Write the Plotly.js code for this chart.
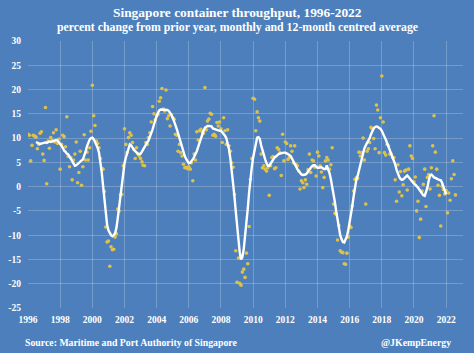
<!DOCTYPE html>
<html>
<head>
<meta charset="utf-8">
<script src="https://cdn.plot.ly/plotly-3.0.1.min.js"></script>
<style>
  html, body { margin: 0; padding: 0; background: #4F81BD; }
  #chart { width: 474px; height: 353px; }
</style>
</head>
<body>
<div id="chart"></div>
<script>
// Monthly year-on-year % change, Jan 1996 .. Aug 2022
const monthlyStart = [1996, 1];
const monthly = [
  10.8, 10.6, 5.3, 8.5, 10.6, 10.4, 10.2, 7.8, 8.7, 11.0, 11.3, 6.7,      // 1996
  5.4, 16.3, 0.6, 9.4, 7.9, 10.1, 9.5, 11.1, 9.2, 11.7, 8.9, 9.8,        // 1997
  3.6, 8.7, 10.6, 10.3, 8.2, 14.4, 6.2, 4.1, 6.0, 1.4, 5.5, 6.7,         // 1998
  9.2, 0.8, 2.9, 7.3, 0.3, 4.1, 10.7, 5.5, 7.1, 5.5, 8.0, 11.4,          // 1999
  20.9, 14.6, 12.6, 9.4, 8.9, 8.0, 5.8, 3.7, 3.6, -1.0, -8.3, -11.4,     // 2000
  -11.2, -16.4, -12.4, -13.0, -12.9, -10.4, -9.7, -4.6, -5.0, -1.7, -1.6, 4.3, // 2001
  11.9, 8.7, 7.0, 10.1, 11.1, 10.6, 9.1, 7.7, 5.8, 8.0, 6.7, 6.3,        // 2002
  5.8, 5.1, 4.4, 4.3, 9.1, 8.7, 10.1, 11.1, 13.3, 16.5, 15.0, 13.8,      // 2003
  14.6, 14.9, 17.6, 18.3, 20.2, 16.0, 15.6, 19.9, 14.0, 14.6, 12.5, 14.8, // 2004
  14.2, 13.9, 10.8, 10.6, 7.3, 8.7, 7.0, 6.3, 4.6, 3.9, 4.0, 3.7,        // 2005
  4.1, 3.6, 4.9, 1.2, 6.7, 5.5, 11.3, 9.6, 11.5, 11.8, 11.3, 11.0,       // 2006
  20.4, 11.7, 13.5, 13.9, 15.1, 14.9, 10.6, 10.8, 10.4, 13.2, 12.5, 13.3, // 2007
  11.9, 9.1, 14.2, 11.5, 8.7, 11.7, 8.4, 7.3, 4.9, 4.0, -1.6, -13.2,     // 2008
  -19.7, -14.7, -19.9, -20.3, -17.6, -17.0, -18.7, -13.7, -15.9, -8.2, 1.5, 5.8, // 2009
  18.2, 18.0, 11.5, 15.4, 14.2, 13.5, 6.7, 3.9, 4.3, 3.6, 3.2, 3.9,      // 2010
  -1.8, 4.3, 6.0, 6.2, 3.7, 3.9, 8.0, 7.7, 7.0, 2.3, 10.8, 5.3,          // 2011
  9.2, 8.9, 5.6, 6.0, 8.4, 7.3, 4.9, 8.4, 4.6, 4.3, 3.2, -0.5,           // 2012
  1.2, 0.8, -0.2, 1.4, 0.5, 3.5, 6.7, 2.9, 5.5, 5.3, 4.0, 2.2,           // 2013
  7.1, 6.3, 4.3, 3.0, -0.2, 1.9, 5.3, 6.0, 5.5, 3.6, 4.5, 8.0,           // 2014
  -3.6, -5.5, -5.7, -11.0, -8.0, -13.2, -13.5, -13.6, -15.9, -16.0, -13.7, -10.4, // 2015
  -8.1, -8.4, -4.0, -0.9, 1.5, 1.8, 1.7, 7.1, 6.3, 7.0, 10.0, 5.5,       // 2016
  -3.6, 7.3, 7.8, 9.1, 12.2, 11.9, 9.9, 7.8, 16.8, 15.8, 7.0, 14.2,      // 2017
  22.8, 13.3, 7.0, 6.5, 8.7, 8.4, 6.7, 6.7, 6.0, 6.0, 1.4, -3.0,         // 2018
  4.5, -1.1, 3.1, -1.9, 0.4, 3.2, 3.4, -0.7, 3.6, 8.4, 6.3, 5.8,         // 2019
  1.0, 2.0, -5.0, -3.0, -10.5, -6.7, -0.9, 0.5, 3.6, -4.1, 1.9, 2.5,     // 2020
  -0.5, 3.9, 8.4, 14.6, 7.1, 3.6, 0.3, -1.8, -8.1, 0.1, -0.6, -1.5,      // 2021
  -0.8, -5.4, -1.3, -2.8, 1.6, 5.3, 2.5, -1.7                            // 2022
];

// 12-month centred average, Jul 1996 .. Jan 2022
const averageStart = [1996, 7];
const average = [
  9.2, 9.0, 8.9, 8.8, 8.9, 9.0,                                      // 1996 H2
  9.0, 9.1, 9.0, 9.2, 9.3, 9.2, 9.3, 9.4, 9.5, 9.6, 9.5, 9.2,        // 1997
  8.8, 8.4, 8.0, 7.4, 7.2, 6.8, 6.7, 6.2, 5.5, 5.0, 4.6, 4.3,        // 1998
  4.4, 4.7, 4.9, 5.2, 5.4, 5.6, 6.3, 7.2, 8.3, 9.1, 9.7, 10.0,       // 1999
  10.1, 9.8, 9.3, 8.8, 8.0, 7.0, 5.2, 3.0, 0.2, -2.8, -5.5, -7.8,    // 2000
  -9.0, -9.7, -10.0, -10.2, -10.0, -9.6, -8.5, -6.5, -4.2, -1.8, 0.8, 3.0, // 2001
  4.8, 6.0, 7.0, 8.0, 8.7, 8.5, 8.0, 7.6, 7.3, 7.0, 6.8, 6.7,        // 2002
  6.8, 7.2, 7.7, 8.2, 8.7, 9.1, 9.5, 10.2, 11.0, 11.8, 12.8, 13.8,   // 2003
  14.5, 15.2, 15.7, 15.9, 15.9, 15.8, 15.9, 15.9, 15.8, 15.6, 15.3, 14.8, // 2004
  14.2, 13.5, 12.8, 11.9, 11.0, 10.0, 9.0, 8.0, 7.0, 6.3, 5.7, 5.2,  // 2005
  4.8, 4.9, 5.2, 5.6, 6.1, 6.6, 7.3, 8.2, 9.1, 9.9, 10.7, 11.5,      // 2006
  12.1, 12.4, 12.5, 12.5, 12.5, 12.4, 12.0, 11.9, 11.8, 11.6, 11.5, 11.5, // 2007
  11.5, 11.2, 11.0, 10.5, 10.0, 9.0, 7.7, 5.8, 3.6, 0.8, -1.9, -5.0, // 2008
  -8.5, -11.5, -13.5, -15.0, -14.5, -12.9, -10.5, -8.1, -4.5, -1.2, 1.8, 4.0, // 2009
  6.0, 7.7, 9.2, 10.1, 10.2, 9.8, 8.5, 7.4, 6.4, 5.6, 4.8, 4.3,      // 2010
  4.3, 4.8, 5.3, 5.6, 6.0, 6.2, 6.5, 6.7, 6.8, 6.9, 7.0, 7.0,        // 2011
  7.0, 6.9, 6.7, 6.5, 6.3, 5.8, 5.2, 4.6, 4.0, 3.6, 3.2, 2.8,        // 2012
  2.5, 2.4, 2.4, 2.5, 2.7, 3.2, 3.6, 3.9, 4.2, 4.4, 4.4, 4.2,        // 2013
  3.9, 3.9, 4.0, 4.0, 3.8, 3.6, 3.6, 4.4, 3.5, 2.8, 1.5, 0.1,        // 2014
  -1.5, -3.2, -5.0, -7.0, -8.6, -10.0, -10.8, -11.4, -11.5, -11.0, -10.2, -9.0, // 2015
  -7.5, -5.6, -4.0, -2.0, 0.1, 1.4, 2.2, 3.5, 4.6, 5.8, 7.0, 7.9,    // 2016
  8.5, 9.0, 9.4, 10.0, 10.8, 11.5, 12.0, 12.3, 12.4, 12.3, 12.1, 11.9, // 2017
  11.5, 11.0, 10.3, 9.7, 9.0, 8.3, 7.6, 7.0, 6.2, 5.5, 4.6, 3.5,     // 2018
  2.6, 2.0, 1.6, 1.4, 1.5, 1.8, 2.1, 2.3, 2.0, 1.6, 1.2, 0.9,        // 2019
  0.6, 0.4, 0.2, -0.2, -0.6, -1.0, -1.4, -1.8, -1.9, -1.2, -0.2, 1.2, // 2020
  2.3, 2.5, 2.2, 1.9, 1.8, 1.6, 1.5, 1.4, 1.3, 0.8, 0.1, -0.9,       // 2021
  -1.6                                                               // 2022 Jan
];

const yTicks = [-25, -20, -15, -10, -5, 0, 5, 10, 15, 20, 25, 30];
const titleText = 'Singapore container throughput, 1996-2022';
const subtitleText = 'percent change from prior year, monthly and 12-month centred average';
const sourceText = 'Source: Maritime and Port Authority of Singapore';
const handleText = '@JKempEnergy';

function monthDates(start, n) {
  const out = [];
  let y = start[0], m = start[1];
  for (let i = 0; i < n; i++) {
    out.push(y + '-' + String(m).padStart(2, '0') + '-01');
    m++; if (m > 12) { m = 1; y++; }
  }
  return out;
}

const BG = '#4D7FBC';
const FONT = 'Liberation Serif, Times New Roman, serif';

const traces = [
  {
    type: 'scatter', mode: 'markers',
    x: monthDates(monthlyStart, monthly.length), y: monthly,
    marker: { color: '#DDC24A', size: 3.6, line: { width: 0 } },
    hoverinfo: 'skip', showlegend: false
  },
  {
    type: 'scatter', mode: 'lines',
    x: monthDates(averageStart, average.length), y: average,
    line: { color: '#FFFFFF', width: 2.4 },
    hoverinfo: 'skip', showlegend: false
  }
];

const layout = {
  width: 474, height: 353,
  paper_bgcolor: BG, plot_bgcolor: BG,
  margin: { l: 28, r: 11, t: 41, b: 45 },
  font: { family: FONT, color: '#FFFFFF' },
  xaxis: {
    type: 'date',
    range: ['1996-01-01', '2023-01-19'],
    tick0: '1996-01-01', dtick: 'M24', tickformat: '%Y',
    showgrid: true, gridcolor: 'rgba(255,255,255,0.22)', gridwidth: 1,
    zeroline: false, showline: false, ticks: '',
    ticklabelstandoff: 4,
    tickfont: { family: FONT, size: 9.5, color: '#FFFFFF', weight: 'bold' }
  },
  yaxis: {
    range: [-25, 30],
    tickmode: 'array', tickvals: yTicks, ticktext: yTicks.map(String),
    showgrid: true, gridcolor: 'rgba(255,255,255,0.22)', gridwidth: 1,
    zeroline: false, showline: false, ticks: '',
    ticklabelstandoff: 6,
    tickfont: { family: FONT, size: 9.5, color: '#FFFFFF', weight: 'bold' }
  },
  annotations: [
    { text: titleText, xref: 'paper', yref: 'paper', x: 0.4805, y: 1.1086,
      xanchor: 'center', yanchor: 'middle', showarrow: false,
      font: { family: FONT, size: 13.4, color: '#FFFFFF', weight: 'bold' } },
    { text: subtitleText, xref: 'paper', yref: 'paper', x: 0.4805, y: 1.0524,
      xanchor: 'center', yanchor: 'middle', showarrow: false,
      font: { family: FONT, size: 11.8, color: '#FFFFFF', weight: 'bold' } },
    { text: sourceText, xref: 'paper', yref: 'paper', x: -0.0122, y: -0.130,
      xanchor: 'left', yanchor: 'middle', showarrow: false,
      font: { family: FONT, size: 9.8, color: '#FFFFFF', weight: 'bold' } },
    { text: handleText, xref: 'paper', yref: 'paper', x: 0.9763, y: -0.130,
      xanchor: 'right', yanchor: 'middle', showarrow: false,
      font: { family: FONT, size: 9.8, color: '#FFFFFF', weight: 'bold' } }
  ]
};

Plotly.newPlot('chart', traces, layout, { staticPlot: true, displayModeBar: false });
</script>
</body>
</html>
